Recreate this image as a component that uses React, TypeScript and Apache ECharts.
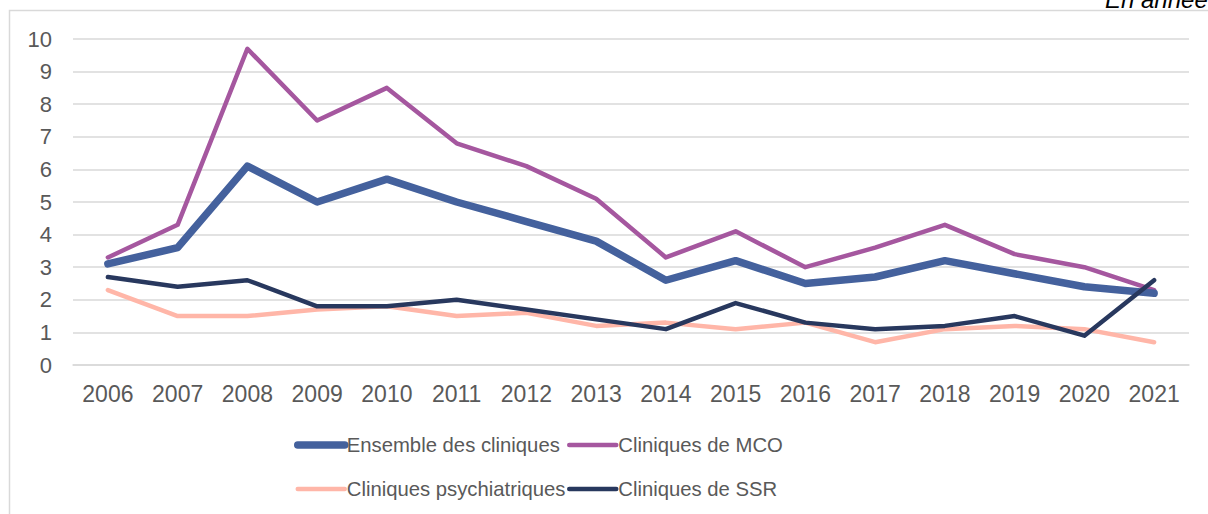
import React, { useEffect, useRef } from "react";
import * as echarts from "echarts";

const years = ["2006","2007","2008","2009","2010","2011","2012","2013","2014","2015","2016","2017","2018","2019","2020","2021"];
const ensemble = [3.1, 3.6, 6.1, 5.0, 5.7, 5.0, 4.4, 3.8, 2.6, 3.2, 2.5, 2.7, 3.2, 2.8, 2.4, 2.2];
const mco = [3.3, 4.3, 9.7, 7.5, 8.5, 6.8, 6.1, 5.1, 3.3, 4.1, 3.0, 3.6, 4.3, 3.4, 3.0, 2.3];
const psy = [2.3, 1.5, 1.5, 1.7, 1.8, 1.5, 1.6, 1.2, 1.3, 1.1, 1.3, 0.7, 1.1, 1.2, 1.1, 0.7];
const ssr = [2.7, 2.4, 2.6, 1.8, 1.8, 2.0, 1.7, 1.4, 1.1, 1.9, 1.3, 1.1, 1.2, 1.5, 0.9, 2.6];

const names = ["Ensemble des cliniques", "Cliniques de MCO", "Cliniques psychiatriques", "Cliniques de SSR"];
const colors = ["#44619D", "#A5579F", "#FFB6A8", "#28385E"];
const widths = [7.5, 4.5, 4.5, 4.5];
const FONT = "'Liberation Sans', Arial, sans-serif";
const TXT = "#595959";

export default function App() {
  const ref = useRef<HTMLDivElement>(null);
  useEffect(() => {
    document.body.style.margin = "0";
    const chart = echarts.init(ref.current!, null, { renderer: "svg" });
    const mk = (i: number, data: number[], z: number) => ({
      name: names[i],
      type: "line",
      data,
      symbol: "none",
      showSymbol: false,
      z,
      lineStyle: { color: colors[i], width: widths[i], cap: "round", join: "round" },
      itemStyle: { color: colors[i] },
    });
    const legItem = (i: number) => ({
      name: names[i],
      itemStyle: { color: "transparent", borderWidth: 0, opacity: 0 },
      lineStyle: { color: colors[i], width: widths[i], cap: "round" },
    });
    const legendBase = {
      orient: "vertical",
      top: 435,
      padding: 0,
      itemWidth: 47,
      itemHeight: 14,
      itemGap: 24,
      textStyle: { fontSize: 20.3, color: TXT, fontFamily: FONT, padding: [0, 0, 0, -3] },
    };
    chart.setOption({
      animation: false,
      backgroundColor: "#fff",
      textStyle: { fontFamily: FONT },
      graphic: [
        {
          type: "rect",
          shape: { x: 9.5, y: 10.5, width: 1300, height: 600 },
          style: { fill: "none", stroke: "#d9d9d9", lineWidth: 1.5 },
          silent: true,
          z: -10,
        },
        {
          type: "text",
          style: {
            x: 1105,
            y: 11,
            text: "En année",
            font: `italic 24px ${FONT}`,
            fill: "#000",
            textAlign: "left",
            textVerticalAlign: "bottom",
          },
        },
      ],
      grid: { left: 73, right: 19, top: 39, bottom: 149 },
      xAxis: {
        type: "category",
        data: years,
        boundaryGap: true,
        axisLine: { show: true, lineStyle: { color: "#d9d9d9", width: 1.5 } },
        axisTick: { show: false },
        axisLabel: { color: TXT, fontSize: 23, fontFamily: FONT, margin: 17 },
      },
      yAxis: {
        type: "value",
        min: 0,
        max: 10,
        interval: 1,
        axisLine: { show: false },
        axisTick: { show: false },
        splitLine: { lineStyle: { color: "#d9d9d9", width: 1.5 } },
        axisLabel: { color: TXT, fontSize: 22, fontFamily: FONT, margin: 21 },
      },
      legend: [
        { ...legendBase, left: 294, data: [legItem(0), legItem(2)] },
        { ...legendBase, left: 567, data: [legItem(1), legItem(3)] },
      ],
      series: [
        mk(1, mco, 2),
        mk(0, ensemble, 3),
        mk(2, psy, 4),
        mk(3, ssr, 5),
      ],
    });
    return () => chart.dispose();
  }, []);
  return <div ref={ref} style={{ width: 1208, height: 514 }} />;
}
